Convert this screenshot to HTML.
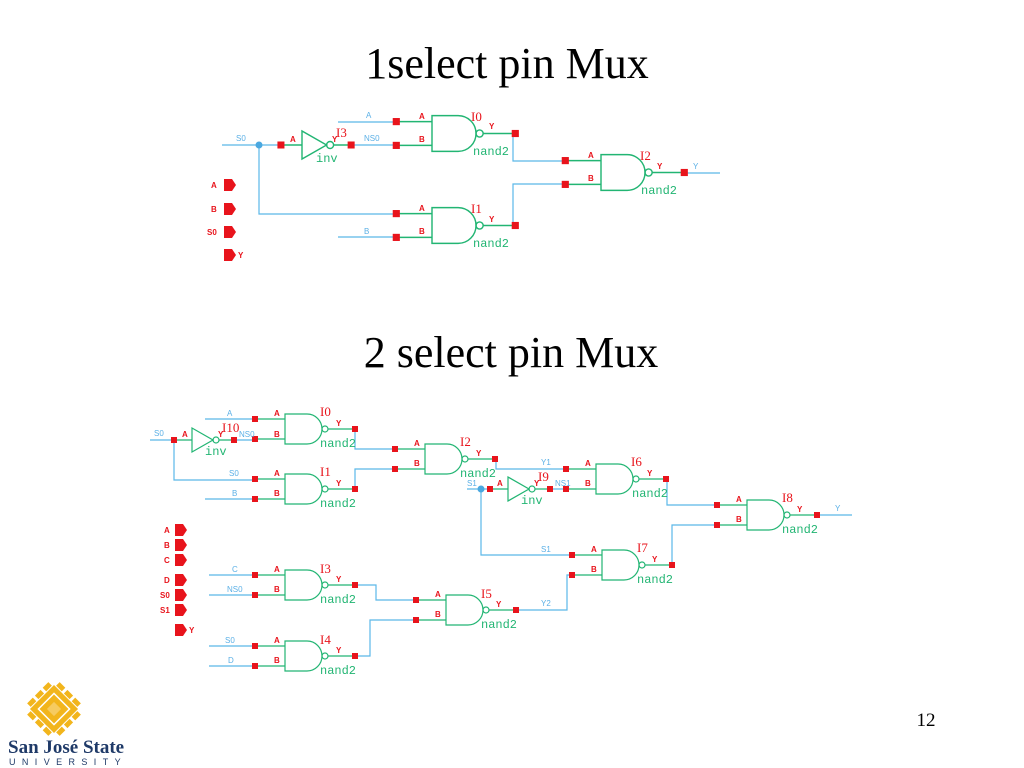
<!DOCTYPE html>
<html><head><meta charset="utf-8"><style>
html,body{margin:0;padding:0;background:#fff;width:1024px;height:768px;overflow:hidden}
svg{display:block}
.t{font-family:"Liberation Serif",serif;fill:#000}
.p{font-family:"Liberation Sans",sans-serif;font-size:8px;fill:#e8141c;font-weight:bold}
.n{font-family:"Liberation Sans",sans-serif;font-size:8px;fill:#5bb0e6}
.g{font-family:"Liberation Mono",monospace;font-size:12px;fill:#22b573}
.i{font-family:"Liberation Serif",serif;font-size:13px;fill:#e8141c}
.w{stroke:#5bb8e8;stroke-width:1.2;fill:none}
</style></head><body>
<svg width="1024" height="768" viewBox="0 0 1024 768">
<defs>
<g id="nd">
<path d="M0,-15H22A15,15 0 0 1 22,15H0Z" fill="none" stroke="#22b573" stroke-width="1.2"/>
<circle cx="40" cy="0" r="3" fill="none" stroke="#22b573" stroke-width="1.2"/>
<path d="M-30,-10H0M-30,10H0M43,0H70" stroke="#22b573" stroke-width="1.2"/>
<rect x="-33" y="-13" width="6" height="6" fill="#e8141c"/>
<rect x="-33" y="7" width="6" height="6" fill="#e8141c"/>
<rect x="67" y="-3" width="6" height="6" fill="#e8141c"/>
</g>
<g id="iv">
<path d="M0,-12L0,12L21,0Z" fill="none" stroke="#22b573" stroke-width="1.2"/>
<circle cx="24" cy="0" r="3" fill="none" stroke="#22b573" stroke-width="1.2"/>
<path d="M-18,0H0M27,0H42" stroke="#22b573" stroke-width="1.2"/>
<rect x="-21" y="-3" width="6" height="6" fill="#e8141c"/>
<rect x="39" y="-3" width="6" height="6" fill="#e8141c"/>
</g>
<path id="port" d="M0,-6H8L12,0L8,6H0Z" fill="#e8141c"/>
</defs>

<text class="t" x="507" y="78" font-size="44" text-anchor="middle">1select pin Mux</text>
<text class="t" x="511" y="367" font-size="44" text-anchor="middle">2 select pin Mux</text>
<text class="t" x="926" y="726" font-size="19" text-anchor="middle">12</text>

<!-- ===== Diagram 1 ===== -->
<path class="w" d="M222,145H282M259,145V214H397M338,122H397M351,145H397M338,237H397M513,133V161H566M513,226V184H566M682,173H720"/>
<circle cx="259" cy="145" r="3.5" fill="#4aa8e0"/>
<use href="#iv" transform="translate(302,145) scale(1.17)"/>
<use href="#nd" transform="translate(432,133.5) scale(1.19)"/>
<use href="#nd" transform="translate(432,225.5) scale(1.19)"/>
<use href="#nd" transform="translate(601,172.5) scale(1.19)"/>
<text class="n" x="236" y="141">S0</text>
<text class="n" x="366" y="118">A</text>
<text class="n" x="364" y="141">NS0</text>
<text class="n" x="364" y="234">B</text>
<text class="n" x="693" y="169">Y</text>
<text class="p" x="290" y="142">A</text>
<text class="p" x="332" y="142">Y</text>
<text class="i" x="336" y="137">I3</text>
<text class="g" x="316" y="162">inv</text>
<text class="p" x="419" y="119">A</text><text class="p" x="419" y="142">B</text><text class="p" x="489" y="129">Y</text>
<text class="i" x="471" y="121">I0</text><text class="g" x="473" y="155">nand2</text>
<text class="p" x="419" y="211">A</text><text class="p" x="419" y="234">B</text><text class="p" x="489" y="222">Y</text>
<text class="i" x="471" y="213">I1</text><text class="g" x="473" y="247">nand2</text>
<text class="p" x="588" y="158">A</text><text class="p" x="588" y="181">B</text><text class="p" x="657" y="169">Y</text>
<text class="i" x="640" y="160">I2</text><text class="g" x="641" y="194">nand2</text>
<use href="#port" x="224" y="185"/><text class="p" x="211" y="188">A</text>
<use href="#port" x="224" y="209"/><text class="p" x="211" y="212">B</text>
<use href="#port" x="224" y="232"/><text class="p" x="207" y="235">S0</text>
<use href="#port" x="224" y="255"/><text class="p" x="238" y="258">Y</text>

<!-- ===== Diagram 2 ===== -->
<path class="w" d="M150,440H174M174,440V480H255M205,419H255M234,440H255M205,499H255M355,429V449H395M355,489V469H395M496,459V469H566M467,489H491M551,489H566M481,489V555H571M667,479V505H717M672,565V525H717M817,515H852M209,575H255M209,595H255M355,585H376V600H416M355,656H370V620H416M209,646H255M209,666H255M516,610H567V575H571"/>
<circle cx="481" cy="489" r="3.5" fill="#4aa8e0"/>
<use href="#iv" transform="translate(192,440)"/>
<use href="#iv" transform="translate(508,489)"/>
<use href="#nd" transform="translate(285,429)"/>
<use href="#nd" transform="translate(285,489)"/>
<use href="#nd" transform="translate(425,459)"/>
<use href="#nd" transform="translate(596,479)"/>
<use href="#nd" transform="translate(602,565)"/>
<use href="#nd" transform="translate(747,515)"/>
<use href="#nd" transform="translate(285,585)"/>
<use href="#nd" transform="translate(285,656)"/>
<use href="#nd" transform="translate(446,610)"/>

<text class="n" x="154" y="436">S0</text>
<text class="n" x="227" y="416">A</text>
<text class="n" x="239" y="437">NS0</text>
<text class="n" x="229" y="476">S0</text>
<text class="n" x="232" y="496">B</text>
<text class="n" x="541" y="465">Y1</text>
<text class="n" x="467" y="486">S1</text>
<text class="n" x="555" y="486">NS1</text>
<text class="n" x="541" y="552">S1</text>
<text class="n" x="835" y="511">Y</text>
<text class="n" x="232" y="572">C</text>
<text class="n" x="227" y="592">NS0</text>
<text class="n" x="225" y="643">S0</text>
<text class="n" x="228" y="663">D</text>
<text class="n" x="541" y="606">Y2</text>

<text class="p" x="182" y="437">A</text><text class="p" x="218" y="437">Y</text>
<text class="i" x="222" y="432">I10</text><text class="g" x="205" y="455">inv</text>
<text class="p" x="497" y="486">A</text><text class="p" x="534" y="486">Y</text>
<text class="i" x="538" y="481">I9</text><text class="g" x="521" y="504">inv</text>

<text class="p" x="274" y="416">A</text><text class="p" x="274" y="437">B</text><text class="p" x="336" y="426">Y</text><text class="i" x="320" y="416">I0</text><text class="g" x="320" y="447">nand2</text>
<text class="p" x="274" y="476">A</text><text class="p" x="274" y="496">B</text><text class="p" x="336" y="486">Y</text><text class="i" x="320" y="476">I1</text><text class="g" x="320" y="507">nand2</text>
<text class="p" x="414" y="446">A</text><text class="p" x="414" y="466">B</text><text class="p" x="476" y="456">Y</text><text class="i" x="460" y="446">I2</text><text class="g" x="460" y="477">nand2</text>
<text class="p" x="585" y="466">A</text><text class="p" x="585" y="486">B</text><text class="p" x="647" y="476">Y</text><text class="i" x="631" y="466">I6</text><text class="g" x="632" y="497">nand2</text>
<text class="p" x="591" y="552">A</text><text class="p" x="591" y="572">B</text><text class="p" x="652" y="562">Y</text><text class="i" x="637" y="552">I7</text><text class="g" x="637" y="583">nand2</text>
<text class="p" x="736" y="502">A</text><text class="p" x="736" y="522">B</text><text class="p" x="797" y="512">Y</text><text class="i" x="782" y="502">I8</text><text class="g" x="782" y="533">nand2</text>
<text class="p" x="274" y="572">A</text><text class="p" x="274" y="592">B</text><text class="p" x="336" y="582">Y</text><text class="i" x="320" y="573">I3</text><text class="g" x="320" y="603">nand2</text>
<text class="p" x="274" y="643">A</text><text class="p" x="274" y="663">B</text><text class="p" x="336" y="653">Y</text><text class="i" x="320" y="644">I4</text><text class="g" x="320" y="674">nand2</text>
<text class="p" x="435" y="597">A</text><text class="p" x="435" y="617">B</text><text class="p" x="496" y="607">Y</text><text class="i" x="481" y="598">I5</text><text class="g" x="481" y="628">nand2</text>

<use href="#port" x="175" y="530"/><text class="p" x="164" y="533">A</text>
<use href="#port" x="175" y="545"/><text class="p" x="164" y="548">B</text>
<use href="#port" x="175" y="560"/><text class="p" x="164" y="563">C</text>
<use href="#port" x="175" y="580"/><text class="p" x="164" y="583">D</text>
<use href="#port" x="175" y="595"/><text class="p" x="160" y="598">S0</text>
<use href="#port" x="175" y="610"/><text class="p" x="160" y="613">S1</text>
<use href="#port" x="175" y="630"/><text class="p" x="189" y="633">Y</text>

<!-- logo -->
<g transform="translate(54,709) rotate(45)">
<rect x="-17" y="-17" width="34" height="34" fill="#f2b51c"/>
<rect x="-11" y="-11" width="22" height="22" fill="none" stroke="#fff" stroke-width="1.5"/>
<rect x="-5" y="-5" width="10" height="10" fill="#fff" opacity="0.3"/>
<g fill="#f2b51c">
<rect x="-23" y="-15" width="5" height="8"/><rect x="-23" y="-4" width="5" height="8"/><rect x="-23" y="7" width="5" height="8"/>
<rect x="18" y="-15" width="5" height="8"/><rect x="18" y="-4" width="5" height="8"/><rect x="18" y="7" width="5" height="8"/>
<rect x="-15" y="-23" width="8" height="5"/><rect x="-4" y="-23" width="8" height="5"/><rect x="7" y="-23" width="8" height="5"/>
<rect x="-15" y="18" width="8" height="5"/><rect x="-4" y="18" width="8" height="5"/><rect x="7" y="18" width="8" height="5"/>
</g>
</g>
<text x="8" y="753" font-family="Liberation Serif,serif" font-weight="bold" font-size="19" fill="#1f3a68">San José State</text>
<text x="9" y="765" font-family="Liberation Sans,sans-serif" font-size="9" letter-spacing="6.4" fill="#1f3a68">UNIVERSITY</text>
</svg>
</body></html>
